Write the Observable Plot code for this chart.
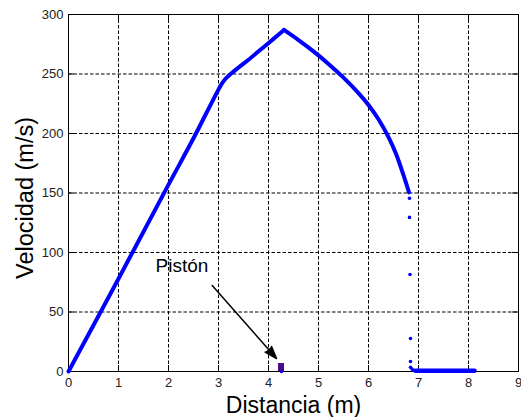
<!DOCTYPE html>
<html>
<head>
<meta charset="utf-8">
<script src="https://cdn.jsdelivr.net/npm/d3@7"></script>
<script src="https://cdn.jsdelivr.net/npm/@observablehq/plot@0.6"></script>
<style>
  body { margin: 0; background: #fff; }
</style>
</head>
<body>
<div id="chart"></div>
<script>
// Axis ticks
const xTicks = [0, 1, 2, 3, 4, 5, 6, 7, 8, 9];
const yTicks = [0, 50, 100, 150, 200, 250, 300];

// Velocity profile along the barrel (distance in m, velocity in m/s)
const curveX = [0, 1, 2, 2.5, 3.04, 3.12, 3.3, 3.6, 3.9, 4.1, 4.31, 4.6, 4.9, 5.2, 5.5, 5.8, 6.0, 6.2, 6.4, 6.55, 6.7, 6.81];
const curveY = [0, 78, 157, 196, 240, 245, 252, 262, 272.5, 279.5, 287, 278.5, 269, 258.5, 247, 234, 224, 212, 197, 183, 165, 150.5];
const peakIndex = 10;

// Isolated samples at the end of the stroke
const scatterX = [6.82, 6.82, 6.83, 6.84, 6.84, 6.84, 6.87, 6.9, 4.26];
const scatterY = [145.5, 129.5, 81.5, 27.7, 8.4, 3.6, 2, 1, 0];

// Resting samples after the stop
const tailX = [6.94, 8.12];
const tailY = [0.6, 0.6];

// Piston position and annotation
const pistonX = [4.26];
const pistonH = [6.7];
const arrowFrom = [2.874, 72.3];
const arrowTo = [4.16, 10.9];
const pistonLabel = ["Pistón"];
const pistonLabelPos = [2.27, 84];

const W = 521, H = 417;
const ML = 68, MR = 3, MT = 14, MB = 46;
const innerW = W - ML - MR, innerH = H - MT - MB;
const tickLen = 6;
const blue = "#0000ff";

// accelerating and decelerating branches meet at a sharp peak
const riseX = curveX.slice(0, peakIndex + 1), riseY = curveY.slice(0, peakIndex + 1);
const fallX = curveX.slice(peakIndex), fallY = curveY.slice(peakIndex);
const curveStyle = { stroke: blue, strokeWidth: 4, strokeLinecap: "round", strokeLinejoin: "round", curve: "catmull-rom" };

const chart = Plot.plot({
  width: W,
  height: H,
  marginLeft: ML,
  marginRight: MR,
  marginTop: MT,
  marginBottom: MB,
  style: {
    fontFamily: "'Liberation Sans', Arial, sans-serif",
    color: "black",
    background: "white",
    overflow: "visible"
  },
  x: { domain: [0, 9], label: null },
  y: { domain: [0, 300], label: null },
  marks: [
    // dashed grid
    Plot.gridX(xTicks, { stroke: "black", strokeOpacity: 1, strokeDasharray: "3.5,2", strokeWidth: 1 }),
    Plot.gridY(yTicks, { stroke: "black", strokeOpacity: 1, strokeDasharray: "3.5,2", strokeWidth: 1 }),
    // inward ticks on all four sides
    Plot.ruleX(xTicks, { insetTop: innerH - tickLen, stroke: "black" }),
    Plot.ruleX(xTicks, { insetBottom: innerH - tickLen, stroke: "black" }),
    Plot.ruleY(yTicks, { insetRight: innerW - tickLen, stroke: "black" }),
    Plot.ruleY(yTicks, { insetLeft: innerW - tickLen, stroke: "black" }),
    Plot.frame({ stroke: "black" }),
    // tick labels
    Plot.axisX(xTicks, { tickSize: 0, tickPadding: 6, fontSize: 13, fill: "#222", label: null }),
    Plot.axisY(yTicks, { tickSize: 0, tickPadding: 5, fontSize: 13, fill: "#222", label: null }),
    // axis titles
    Plot.text(["Distancia (m)"], {
      frameAnchor: "bottom", dy: 41, lineAnchor: "bottom", textAnchor: "middle", fontSize: 23
    }),
    Plot.text(["Velocidad (m/s)"], {
      frameAnchor: "left", rotate: -90, dx: -36, dy: 5, lineAnchor: "bottom", textAnchor: "middle", fontSize: 23.5
    }),
    // velocity curve
    Plot.line(riseX, { x: riseX, y: riseY, ...curveStyle }),
    Plot.line(fallX, { x: fallX, y: fallY, ...curveStyle }),
    Plot.line(tailX, { x: tailX, y: tailY, stroke: blue, strokeWidth: 4.5, strokeLinecap: "round" }),
    Plot.dot(scatterX, { x: scatterX, y: scatterY, r: 1.8, fill: blue, stroke: null }),
    // piston
    Plot.rect(pistonX, {
      x1: (d) => d - 0.06, x2: (d) => d + 0.06,
      y1: 0, y2: (d, i) => pistonH[i],
      fill: "#4a0a8c"
    }),
    Plot.arrow([0], {
      x1: arrowFrom[0], y1: arrowFrom[1], x2: arrowTo[0], y2: arrowTo[1],
      stroke: "black", fill: "black", strokeWidth: 1.5, headLength: 13, headAngle: 38
    }),
    Plot.text(pistonLabel, {
      x: pistonLabelPos[0], y: pistonLabelPos[1], lineAnchor: "bottom", textAnchor: "middle", fontSize: 19
    })
  ]
});

document.getElementById("chart").appendChild(chart);
</script>
</body>
</html>
